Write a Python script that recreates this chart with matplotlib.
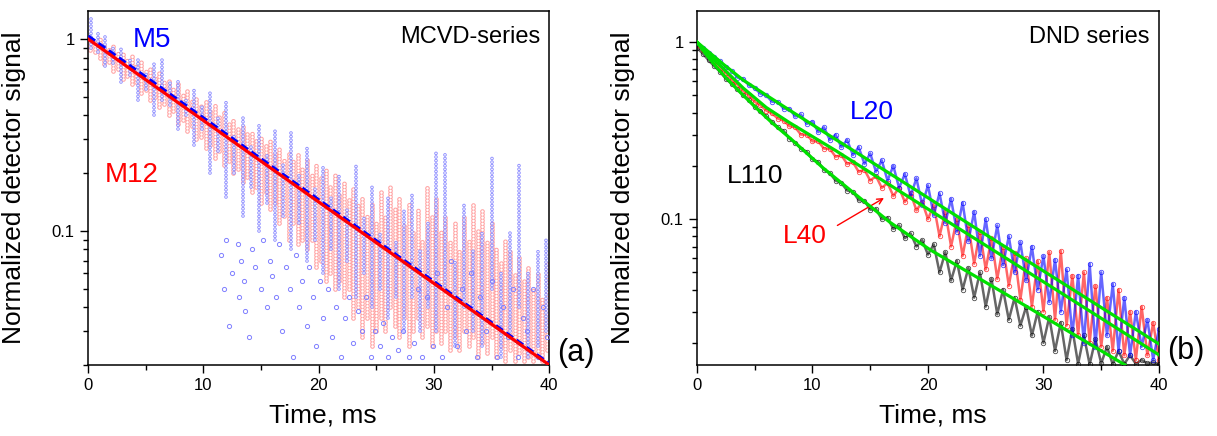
import numpy as np
import matplotlib
matplotlib.use("Agg")
import matplotlib.pyplot as plt
from matplotlib.ticker import MultipleLocator, LogLocator, NullFormatter

plt.rcParams['font.family'] = ['Liberation Sans', 'DejaVu Sans']
plt.rcParams['lines.scale_dashes'] = False

### ---------------------------------------------------------------------- ###
### panel (a): MCVD series, streaks of readings (time, low, high)

m12_t = np.round(np.arange(0.2, 39.81, 0.4), 1)
m12_lo = [0.88, 0.86, 0.80, 0.74, 0.76, 0.68, 0.70, 0.62, 0.64, 0.58, 0.60, 0.52, 0.54,
          0.48, 0.50, 0.44, 0.46, 0.40, 0.42, 0.36, 0.38, 0.33, 0.35, 0.30, 0.31, 0.27,
          0.28, 0.24, 0.26, 0.22, 0.23, 0.20, 0.21, 0.18, 0.19, 0.16, 0.17, 0.14, 0.16,
          0.13, 0.14, 0.11, 0.12, 0.09, 0.11, 0.085, 0.09, 0.08, 0.09, 0.065, 0.07, 0.055,
          0.06, 0.05, 0.055, 0.045, 0.05, 0.035, 0.04, 0.028, 0.035, 0.025, 0.03, 0.035,
          0.03, 0.04, 0.032, 0.028, 0.035, 0.025, 0.03, 0.035, 0.028, 0.032, 0.025, 0.03,
          0.026, 0.03, 0.024, 0.028, 0.024, 0.03, 0.025, 0.028, 0.022, 0.026, 0.023,
          0.028, 0.022, 0.025, 0.021, 0.024, 0.021, 0.023, 0.021, 0.022, 0.021, 0.022,
          0.021, 0.024]
m12_hi = [1.05, 0.98, 1.00, 0.95, 0.90, 0.92, 0.86, 0.84, 0.80, 0.82, 0.74, 0.76, 0.68,
          0.70, 0.64, 0.68, 0.60, 0.62, 0.56, 0.58, 0.52, 0.55, 0.48, 0.50, 0.45, 0.48,
          0.42, 0.45, 0.40, 0.42, 0.37, 0.38, 0.34, 0.36, 0.32, 0.33, 0.30, 0.31, 0.28,
          0.30, 0.26, 0.27, 0.24, 0.26, 0.23, 0.25, 0.21, 0.24, 0.20, 0.22, 0.19, 0.21,
          0.17, 0.20, 0.16, 0.18, 0.15, 0.17, 0.14, 0.15, 0.12, 0.14, 0.11, 0.16, 0.12,
          0.17, 0.13, 0.15, 0.11, 0.14, 0.10, 0.13, 0.09, 0.17, 0.12, 0.15, 0.10, 0.12,
          0.09, 0.11, 0.08, 0.12, 0.09, 0.14, 0.10, 0.13, 0.09, 0.11, 0.08, 0.07, 0.09,
          0.08, 0.06, 0.075, 0.055, 0.065, 0.05, 0.06, 0.045, 0.07]

m5_t = [0.3, 0.9, 1.5, 2.2, 2.9, 3.6, 4.3, 5.0, 5.7, 6.4, 7.1, 7.8, 8.5, 9.2, 9.9, 10.6,
        11.3, 12.0, 12.7, 13.4, 14.1, 14.8, 15.5, 16.2, 16.9, 17.6, 18.3, 19.0, 19.7,
        20.4, 21.1, 21.8, 22.5, 23.2, 23.9, 24.6, 25.3, 26.0, 26.7, 27.4, 28.1, 28.8,
        29.5, 30.2, 31.0, 31.8, 32.6, 33.4, 34.2, 35.0, 35.8, 36.6, 37.4, 38.2, 39.0, 39.7]
m5_lo = [0.90, 0.85, 0.72, 0.75, 0.60, 0.65, 0.48, 0.55, 0.40, 0.48, 0.45, 0.34, 0.40,
         0.28, 0.34, 0.20, 0.26, 0.15, 0.20, 0.12, 0.17, 0.10, 0.14, 0.09, 0.12, 0.08,
         0.11, 0.07, 0.09, 0.06, 0.08, 0.05, 0.07, 0.045, 0.06, 0.04, 0.05, 0.035, 0.045,
         0.03, 0.045, 0.03, 0.04, 0.03, 0.05, 0.025, 0.04, 0.03, 0.025, 0.05, 0.022,
         0.03, 0.04, 0.022, 0.025, 0.03]
m5_hi = [1.30, 1.10, 1.05, 0.92, 0.90, 0.78, 0.80, 0.68, 0.75, 0.78, 0.60, 0.62, 0.50,
         0.55, 0.45, 0.52, 0.40, 0.47, 0.32, 0.40, 0.28, 0.36, 0.25, 0.33, 0.22, 0.33,
         0.20, 0.28, 0.17, 0.22, 0.15, 0.20, 0.13, 0.22, 0.12, 0.17, 0.10, 0.15, 0.09,
         0.13, 0.16, 0.08, 0.11, 0.26, 0.25, 0.07, 0.14, 0.08, 0.10, 0.24, 0.06, 0.10,
         0.22, 0.06, 0.08, 0.09]

# sparse M5 readings below the main band
m5_pt_t = [11.5, 11.8, 12.0, 12.2, 12.5, 13.0, 13.1, 13.3, 13.5, 13.6, 14.0, 14.2, 14.5,
           15.0, 15.2, 15.5, 15.8, 16.0, 16.3, 16.6, 16.8, 17.2, 17.5, 17.8, 18.0, 18.3,
           18.6, 19.0, 19.2, 19.5, 19.8, 20.1, 20.4, 20.8, 21.2, 21.5, 21.9, 22.3, 22.6,
           23.0, 23.4, 23.8, 24.1, 24.5, 24.9, 25.3, 25.6, 26.0, 26.4, 26.9, 27.3, 27.8,
           28.3, 28.6, 29.0, 29.4, 29.9, 30.3, 30.7, 31.1, 31.5, 32.0, 32.4, 32.8, 33.2,
           33.7, 34.0, 34.5, 35.0, 35.5, 36.0, 36.4, 36.9, 37.3, 37.7, 38.1, 38.6, 39.0,
           39.5, 39.8]
m5_pt_v = [0.075, 0.05, 0.09, 0.032, 0.06, 0.085, 0.045, 0.07, 0.055, 0.038, 0.028, 0.08,
           0.065, 0.05, 0.09, 0.04, 0.07, 0.058, 0.045, 0.085, 0.03, 0.065, 0.05, 0.022,
           0.075, 0.04, 0.055, 0.032, 0.065, 0.045, 0.025, 0.055, 0.035, 0.05, 0.028,
           0.04, 0.022, 0.035, 0.045, 0.026, 0.038, 0.03, 0.045, 0.022, 0.03, 0.025,
           0.033, 0.022, 0.028, 0.024, 0.03, 0.022, 0.026, 0.05, 0.022, 0.045, 0.025,
           0.06, 0.022, 0.04, 0.07, 0.025, 0.05, 0.03, 0.06, 0.022, 0.045, 0.03, 0.055,
           0.022, 0.04, 0.028, 0.05, 0.022, 0.035, 0.03, 0.05, 0.022, 0.04, 0.028]

# single-exponential fits (end points, straight on log axis)
fit_t = [0, 40]
fit_m5 = [1.03, 0.0202]
fit_m12 = [1.0, 0.02]

### ---------------------------------------------------------------------- ###
### panel (b): DND series, sampled every 0.5 ms

t_dnd = np.arange(0, 40.01, 0.5)

l20 = [0.98, 0.93, 0.87, 0.82, 0.78, 0.72, 0.69, 0.63, 0.62, 0.57, 0.55, 0.51, 0.50,
       0.46, 0.46, 0.42, 0.42, 0.38, 0.39, 0.345, 0.355, 0.31, 0.33, 0.28, 0.30, 0.255,
       0.28, 0.23, 0.255, 0.205, 0.235, 0.185, 0.215, 0.165, 0.20, 0.15, 0.18, 0.135,
       0.17, 0.12, 0.155, 0.105, 0.14, 0.095, 0.13, 0.085, 0.124, 0.075, 0.11, 0.062,
       0.10, 0.060, 0.092, 0.055, 0.080, 0.050, 0.074, 0.045, 0.070, 0.040, 0.062,
       0.034, 0.059, 0.030, 0.052, 0.022, 0.048, 0.020, 0.056, 0.019, 0.050, 0.022,
       0.043, 0.018, 0.036, 0.017, 0.030, 0.019, 0.027, 0.016, 0.024]
l40 = [0.96, 0.90, 0.83, 0.78, 0.71, 0.67, 0.61, 0.575, 0.53, 0.50, 0.46, 0.44, 0.41,
       0.395, 0.37, 0.36,
       0.335, 0.33, 0.30, 0.30, 0.275, 0.275, 0.25, 0.25, 0.225, 0.23, 0.205, 0.21,
       0.185, 0.19, 0.165, 0.175, 0.15, 0.16, 0.135, 0.15, 0.125, 0.14, 0.112, 0.125,
       0.10,
       0.12, 0.080, 0.11, 0.070, 0.10, 0.062, 0.092, 0.056, 0.085, 0.052, 0.078, 0.046,
       0.070, 0.042, 0.064, 0.035, 0.060, 0.032, 0.058, 0.030, 0.065, 0.027, 0.066,
       0.025, 0.048, 0.022, 0.050, 0.020, 0.042, 0.019, 0.036, 0.018, 0.040, 0.017,
       0.030, 0.016, 0.032, 0.017, 0.026, 0.016]
l110 = [0.93, 0.86, 0.79, 0.73, 0.68, 0.62, 0.58, 0.54, 0.50, 0.47, 0.43, 0.41, 0.38,
        0.355, 0.33, 0.315,
        0.285, 0.27, 0.25, 0.24, 0.218, 0.21, 0.19, 0.182, 0.165, 0.16, 0.145, 0.143,
        0.128, 0.127, 0.113, 0.114, 0.10, 0.102, 0.088, 0.092, 0.078, 0.083, 0.07,
        0.076, 0.063,
        0.072, 0.050, 0.065, 0.045, 0.058, 0.040, 0.053, 0.036, 0.050, 0.032, 0.046,
        0.029, 0.040, 0.027, 0.036, 0.025, 0.032, 0.022, 0.030, 0.020, 0.028, 0.018,
        0.026, 0.016, 0.024, 0.0152, 0.022, 0.0151, 0.021, 0.0153, 0.019, 0.0151,
        0.018, 0.0152, 0.017, 0.0152, 0.016, 0.0153, 0.0155, 0.0152]

# fitted curves (green)
fit20_t = [0, 1, 2.3, 4, 6, 8, 12, 17.6, 25, 32, 40]
fit20_v = [1.0, 0.881, 0.748, 0.610, 0.501, 0.413, 0.282, 0.166, 0.0818, 0.0421, 0.0197]
fit40_t = [0, 1, 2.3, 4, 6, 8, 12, 17.6, 25, 32, 40]
fit40_v = [1.0, 0.851, 0.706, 0.550, 0.427, 0.351, 0.244, 0.143, 0.0710, 0.0366, 0.0171]
fit110_t = [0, 0.5, 1, 1.7, 2.5, 3.75, 5.2, 6.5, 8.1, 10.9, 13.9, 16.7, 20.2, 27.1, 37.06]
fit110_v = [1.0, 0.90, 0.82, 0.72, 0.63, 0.52, 0.42, 0.35, 0.285, 0.195, 0.135, 0.096,
            0.067, 0.0365, 0.015]

BLUE = '#0000ff'
RED = '#ff0000'
GREEN = '#00e000'


def ring_streaks(ax, t, lo, hi, color, lw_out, lw_in, gap, z):
    # a vertical chain of small hollow circles, like stacked scatter markers
    dots = [(0, (0.01, gap))]
    ax.vlines(t, lo, hi, colors=color, linewidths=lw_out, linestyles=dots,
              capstyle='round', zorder=z)
    ax.vlines(t, lo, hi, colors='white', linewidths=lw_in, linestyles=dots,
              capstyle='round', zorder=z)


fig = plt.figure(figsize=(12.17, 4.36), dpi=100)
ax1 = fig.add_axes([0.0723, 0.163, 0.379, 0.812])
ax2 = fig.add_axes([0.5727, 0.163, 0.3796, 0.812])

# --- panel a
ring_streaks(ax1, m12_t, m12_lo, m12_hi, '#ffa0a0', 3.4, 1.9, 2.2, 2)
ring_streaks(ax1, m5_t, m5_lo, m5_hi, '#8c8cff', 2.6, 1.3, 2.6, 3)
ax1.plot(m5_pt_t, m5_pt_v, 'o', ms=3, mfc='none', mec='#8080ff', mew=0.7, zorder=3)

ax1.plot(fit_t, fit_m5, color=BLUE, lw=3, ls=(0, (6, 3)), zorder=4)
ax1.plot(fit_t, fit_m12, color=RED, lw=2.3, zorder=5)

ax1.text(0.0976, 0.898, 'M5', color=BLUE, fontsize=20, transform=ax1.transAxes)
ax1.text(0.037, 0.517, 'M12', color=RED, fontsize=20, transform=ax1.transAxes)
ax1.text(0.98, 0.9096, 'MCVD-series', fontsize=17, ha='right', transform=ax1.transAxes)
ax1.set_ylim(0.02, 1.4)

# --- panel b
for vals, col in [(l110, '#000000'), (l40, RED), (l20, BLUE)]:
    ax2.plot(t_dnd, vals, '-', color=col, lw=1.8, alpha=0.6, zorder=2)
    ax2.plot(t_dnd, vals, 'o', ms=3.2, mfc='none', mec=col, mew=0.6, alpha=0.7, zorder=2)

ax2.plot(fit20_t, fit20_v, color=GREEN, lw=2.3, zorder=4)
ax2.plot(fit40_t, fit40_v, color=GREEN, lw=2.3, zorder=4)
ax2.plot(fit110_t, fit110_v, color=GREEN, lw=2.3, zorder=4)

ax2.text(0.331, 0.695, 'L20', color=BLUE, fontsize=19, transform=ax2.transAxes)
ax2.text(0.065, 0.514, 'L110', color='black', fontsize=19, transform=ax2.transAxes)
ax2.text(0.186, 0.345, 'L40', color=RED, fontsize=19, transform=ax2.transAxes)
ax2.annotate('', xy=(16.4, 0.134), xytext=(11.95, 0.0904),
             arrowprops=dict(arrowstyle='->', color=RED, lw=1.0))
ax2.text(0.98, 0.9096, 'DND series', fontsize=17, ha='right', transform=ax2.transAxes)
ax2.set_ylim(0.015, 1.5)

# common axis styling
for ax in (ax1, ax2):
    ax.set_yscale('log')
    ax.set_xlim(0, 40)
    ax.set_xticks([0, 10, 20, 30, 40])
    ax.xaxis.set_minor_locator(MultipleLocator(5))
    ax.set_yticks([0.1, 1])
    ax.set_yticklabels(['0.1', '1'])
    ax.yaxis.set_minor_locator(LogLocator(base=10, subs=np.arange(2, 10)))
    ax.yaxis.set_minor_formatter(NullFormatter())
    ax.tick_params(which='both', direction='out', width=1.0, labelsize=12,
                   top=False, right=False)
    ax.tick_params(which='major', length=6)
    ax.tick_params(which='minor', length=3.8)
    for sp in ax.spines.values():
        sp.set_linewidth(1.1)
    ax.set_xlabel('Time, ms', fontsize=19)
    ax.set_ylabel('Normalized detector signal', fontsize=19)
    ax.xaxis.set_label_coords(0.51, -0.11)
    ax.yaxis.set_label_coords(-0.135, 0.5)

fig.text(0.458, 0.19, '(a)', fontsize=22, va='center')
fig.text(0.959, 0.195, '(b)', fontsize=22, va='center')

plt.savefig('out.png', dpi=100)
